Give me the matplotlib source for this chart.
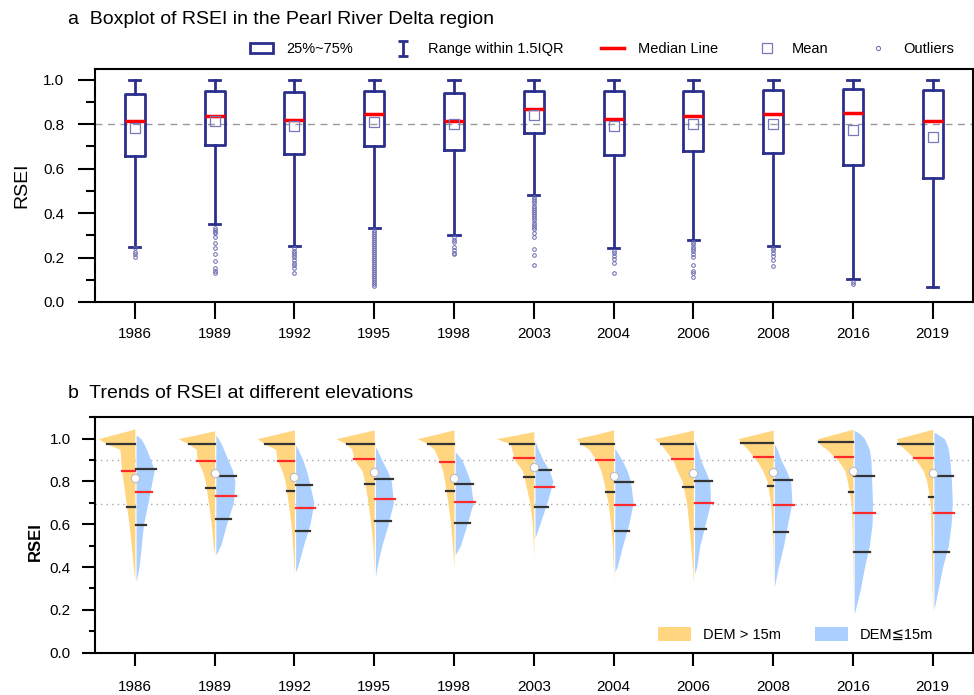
import matplotlib
matplotlib.use("Agg")
import matplotlib.pyplot as plt
import numpy as np
from matplotlib.lines import Line2D
from matplotlib.patches import Patch
from matplotlib.ticker import MultipleLocator

plt.rcParams['font.family'] = ['Liberation Sans', 'DejaVu Sans']

years = ['1986', '1989', '1992', '1995', '1998', '2003', '2004', '2006', '2008', '2016', '2019']

# panel a: box statistics
box_q1 = [0.657, 0.706, 0.664, 0.700, 0.685, 0.759, 0.663, 0.679, 0.672, 0.616, 0.556]
box_med = [0.816, 0.837, 0.820, 0.844, 0.816, 0.870, 0.825, 0.837, 0.846, 0.850, 0.814]
box_q3 = [0.935, 0.951, 0.943, 0.948, 0.942, 0.951, 0.951, 0.951, 0.954, 0.960, 0.952]
box_mean = [0.781, 0.816, 0.792, 0.808, 0.799, 0.841, 0.792, 0.799, 0.799, 0.775, 0.744]
box_lo = [0.249, 0.349, 0.253, 0.334, 0.301, 0.480, 0.243, 0.279, 0.253, 0.102, 0.066]
box_hi = [1.0] * 11
box_fliers = [
    [0.241, 0.226, 0.216, 0.204],
    [0.332, 0.324, 0.316, 0.309, 0.294, 0.267, 0.241, 0.216, 0.184, 0.152, 0.141, 0.132],
    [0.241, 0.231, 0.222, 0.211, 0.201, 0.189, 0.177, 0.166, 0.152, 0.129],
    [0.325, 0.316, 0.307, 0.298, 0.289, 0.280, 0.271, 0.262, 0.253, 0.244, 0.235, 0.226,
     0.217, 0.208, 0.199, 0.190, 0.181, 0.172, 0.163, 0.154, 0.145, 0.136, 0.127, 0.118,
     0.109, 0.100, 0.091, 0.082, 0.073],
    [0.291, 0.280, 0.270, 0.245, 0.235, 0.220, 0.214],
    [0.471, 0.462, 0.452, 0.443, 0.433, 0.424, 0.414, 0.405, 0.395, 0.386, 0.376, 0.367,
     0.357, 0.348, 0.339, 0.327, 0.309, 0.294, 0.237, 0.213, 0.166],
    [0.231, 0.219, 0.207, 0.195, 0.177, 0.129],
    [0.268, 0.260, 0.249, 0.238, 0.228, 0.216, 0.204, 0.166, 0.141, 0.129, 0.114],
    [0.241, 0.232, 0.220, 0.205, 0.190, 0.163],
    [0.090, 0.082],
    [],
]

# panel b: half-violin outlines (half width at each RSEI level)
levels = [0.2, 0.3, 0.4, 0.5, 0.6, 0.7, 0.8, 0.85, 0.9, 0.95, 0.975, 1.0, 1.02]
hi_width = [
    [0, 0, .018, .045, .072, .11, .146, .167, .176, .188, .35, .46, .25],
    [0, 0, 0, .017, .043, .078, .117, .155, .22, .23, .326, .46, .2],
    [0, 0, .006, .023, .043, .078, .117, .156, .215, .237, .368, .47, .235],
    [0, 0, .004, .016, .043, .078, .12, .152, .25, .28, .347, .48, .24],
    [0, 0, .001, .02, .043, .077, .117, .142, .187, .25, .326, .46, .23],
    [0, 0, 0, .007, .019, .05, .109, .142, .24, .276, .293, .47, .18],
    [0, 0, .004, .015, .036, .07, .124, .158, .218, .31, .405, .47, .22],
    [0, 0, .012, .034, .058, .085, .14, .205, .256, .36, .405, .49, .23],
    [0, 0, .003, .006, .016, .033, .075, .13, .21, .32, .385, .44, .22],
    [0, .002, .005, .007, .012, .022, .07, .1, .19, .33, .42, .44, .24],
    [.002, .008, .014, .018, .024, .03, .075, .12, .21, .35, .43, .45, .24],
]
hi_low = [0.34, 0.457, 0.363, 0.363, 0.394, 0.45, 0.301, 0.324, 0.308, 0.23, 0.184]
hi_top = [1.045, 1.037, 1.041, 1.041, 1.041, 1.033, 1.041, 1.04, 1.04, 1.044, 1.044]

lo_width = [
    [0, 0, .038, .066, .093, .15, .2, .228, .185, .13, .1, .06, 0],
    [0, 0, 0, .06, .133, .22, .24, .21, .153, .097, .07, .03, 0],
    [0, 0, .025, .097, .18, .228, .17, .136, .09, .03, 0, 0, 0],
    [0, 0, .02, .08, .16, .225, .2, .15, .08, .02, 0, 0, 0],
    [0, 0, 0, .065, .148, .225, .19, .14, .085, 0, 0, 0, 0],
    [0, 0, 0, 0, .06, .15, .225, .18, .1, .04, .015, 0, 0],
    [0, 0, .03, .098, .175, .23, .197, .155, .09, .008, 0, 0, 0],
    [0, 0, .027, .066, .133, .2, .19, .135, .075, .04, .02, 0, 0],
    [0, 0, .05, .115, .165, .22, .205, .15, .085, .035, 0, 0, 0],
    [.015, .08, .13, .19, .225, .23, .22, .215, .21, .19, .16, .13, .08],
    [0, .055, .108, .18, .215, .23, .22, .21, .2, .18, .16, .13, .05],
]
lo_low = [0.332, 0.457, 0.378, 0.355, 0.457, 0.535, 0.378, 0.37, 0.308, 0.184, 0.2]
lo_top = [1.017, 1.017, 0.97, 0.96, 0.94, 0.99, 0.955, 0.994, 0.978, 1.04, 1.03]

hi_q1 = [0.679, 0.771, 0.755, 0.788, 0.755, 0.823, 0.751, 0.773, 0.780, 0.752, 0.726]
hi_med = [0.850, 0.897, 0.897, 0.905, 0.891, 0.910, 0.899, 0.903, 0.914, 0.913, 0.908]
hi_q3 = [0.975, 0.975, 0.975, 0.975, 0.975, 0.975, 0.975, 0.975, 0.981, 0.983, 0.975]
lo_q1 = [0.597, 0.625, 0.569, 0.614, 0.608, 0.679, 0.569, 0.579, 0.564, 0.472, 0.472]
lo_med = [0.751, 0.731, 0.678, 0.717, 0.703, 0.774, 0.688, 0.698, 0.692, 0.651, 0.651]
lo_q3 = [0.857, 0.826, 0.782, 0.810, 0.787, 0.852, 0.796, 0.802, 0.807, 0.826, 0.826]
all_med = [0.815, 0.838, 0.821, 0.844, 0.815, 0.869, 0.824, 0.838, 0.846, 0.849, 0.841]

navy = '#2B2F8C'
orange = '#FFD580'
blue = '#ABD0FF'

fig = plt.figure(figsize=(9.74, 6.95), dpi=100)
pos = np.arange(len(years))


def style_axes(ax, major_len, minor_len, pad_x, pad_y):
    ax.set_xlim(-0.5, 10.5)
    ax.set_xticks(pos)
    ax.set_xticklabels(years)
    ax.yaxis.set_major_locator(MultipleLocator(0.2))
    ax.yaxis.set_minor_locator(MultipleLocator(0.1))
    ax.set_yticks(np.arange(0, 1.01, 0.2))
    ax.set_yticklabels([f'{v:.1f}' for v in np.arange(0, 1.01, 0.2)])
    ax.tick_params(axis='both', which='major', direction='out', length=major_len,
                   width=1.5, labelsize=11)
    ax.tick_params(axis='x', pad=pad_x)
    ax.tick_params(axis='y', pad=pad_y)
    ax.tick_params(axis='y', which='minor', direction='out', length=minor_len, width=1.5)
    for s in ax.spines.values():
        s.set_linewidth(1.5)


# ---- panel a ----
ax1 = fig.add_axes([0.0975, 0.5655, 0.9011, 0.3353])
stats = []
for i in range(len(years)):
    stats.append(dict(med=box_med[i], q1=box_q1[i], q3=box_q3[i], mean=box_mean[i],
                      whislo=box_lo[i], whishi=box_hi[i], fliers=box_fliers[i]))
ax1.axhline(0.8, color='#999999', lw=1, ls=(0, (5, 4)), zorder=0)
ax1.bxp(stats, positions=pos, widths=0.25, capwidths=0.14, showmeans=True,
        boxprops=dict(color=navy, lw=2), whiskerprops=dict(color=navy, lw=2),
        capprops=dict(color=navy, lw=2), medianprops=dict(color='#FF0000', lw=2.5),
        meanprops=dict(marker='s', markersize=6.5, markerfacecolor='none',
                       markeredgecolor='#7777BB', markeredgewidth=0.9),
        flierprops=dict(marker='o', markersize=2.6, markerfacecolor='none',
                        markeredgecolor='#6A6AB0', markeredgewidth=0.7))
ax1.set_ylim(0, 1.048)
style_axes(ax1, 12, 6.5, 6, 10)

eb = ax1.errorbar([np.nan], [np.nan], yerr=[0.1], fmt='none', ecolor=navy,
                  elinewidth=2, capsize=3.5, capthick=2)
h_box = Patch(facecolor='white', edgecolor=navy, lw=2)
h_med = Line2D([], [], color='#FF0000', lw=2.5)
h_mean = Line2D([], [], ls='none', marker='s', markersize=7, markerfacecolor='none',
                markeredgecolor='#7777BB', markeredgewidth=0.9)
h_out = Line2D([], [], ls='none', marker='o', markersize=3, markerfacecolor='none',
               markeredgecolor='#6A6AB0', markeredgewidth=0.7)
fig.legend([h_box, eb, h_med, h_mean, h_out],
           ['25%~75%', 'Range within 1.5IQR', 'Median Line', 'Mean', 'Outliers'],
           loc='center', bbox_to_anchor=(0.618, 0.929), ncol=5, frameon=False,
           fontsize=10.5, handlelength=1.6, handletextpad=0.9, columnspacing=2.6)

fig.text(68 / 974, 1 - 19 / 695, 'a  Boxplot of RSEI in the Pearl River Delta region',
         fontsize=14, ha='left', va='center')
fig.text(22 / 974, 1 - 185 / 695, 'RSEI', fontsize=14, rotation=90,
         ha='center', va='center')

# ---- panel b ----
ax2 = fig.add_axes([0.0975, 0.0609, 0.9011, 0.3391])
ax2.axhline(0.9, color='#AAAAAA', lw=1, ls=(0, (1, 3)), zorder=0)
ax2.axhline(0.693, color='#AAAAAA', lw=1, ls=(0, (1, 3)), zorder=0)

gap = 0.015


def outline(low, top, widths):
    ys = [low] + [g for g in levels if low < g < top] + [top]
    ws = [0] + [w for g, w in zip(levels, widths) if low < g < top] + [0]
    return np.array(ys), np.array(ws)


for i, p in enumerate(pos):
    yh, wh = outline(hi_low[i], hi_top[i], hi_width[i])
    yl, wl = outline(lo_low[i], lo_top[i], lo_width[i])
    ax2.fill_betweenx(yh, p - wh, p, color=orange, lw=0, zorder=1)
    ax2.fill_betweenx(yl, p + gap, p + gap + wl, color=blue, lw=0, zorder=1)
    for q, c in [(hi_q3[i], '#333333'), (hi_med[i], '#FF2A2A'), (hi_q1[i], '#333333')]:
        ax2.plot([p - np.interp(q, yh, wh), p], [q, q], color=c, lw=1.6, zorder=2)
    for q, c in [(lo_q3[i], '#333333'), (lo_med[i], '#FF2A2A'), (lo_q1[i], '#333333')]:
        ax2.plot([p + gap, p + gap + np.interp(q, yl, wl) + 0.03], [q, q], color=c,
                 lw=1.6, zorder=2)
    ax2.plot(p, all_med[i], marker='o', markersize=6, markerfacecolor='white',
             markeredgecolor='#BBBBBB', markeredgewidth=0.8, zorder=3)

ax2.set_ylim(0, 1.101)
style_axes(ax2, 9.5, 4.5, 10, 8)

ax2.legend([Patch(facecolor=orange, lw=0), Patch(facecolor=blue, lw=0)],
           ['DEM > 15m', 'DEM\u226615m'], loc='lower right', bbox_to_anchor=(0.97, -0.01),
           ncol=2, frameon=False, fontsize=10.5, handlelength=2.3, handleheight=1.1,
           handletextpad=0.8, columnspacing=2.3)

fig.text(68 / 974, 1 - 393 / 695, 'b  Trends of RSEI at different elevations',
         fontsize=14, ha='left', va='center')
fig.text(35 / 974, 1 - 542 / 695, 'RSEI', fontsize=12, fontweight='bold', rotation=90,
         ha='center', va='center')

fig.savefig('out.png', dpi=100)
